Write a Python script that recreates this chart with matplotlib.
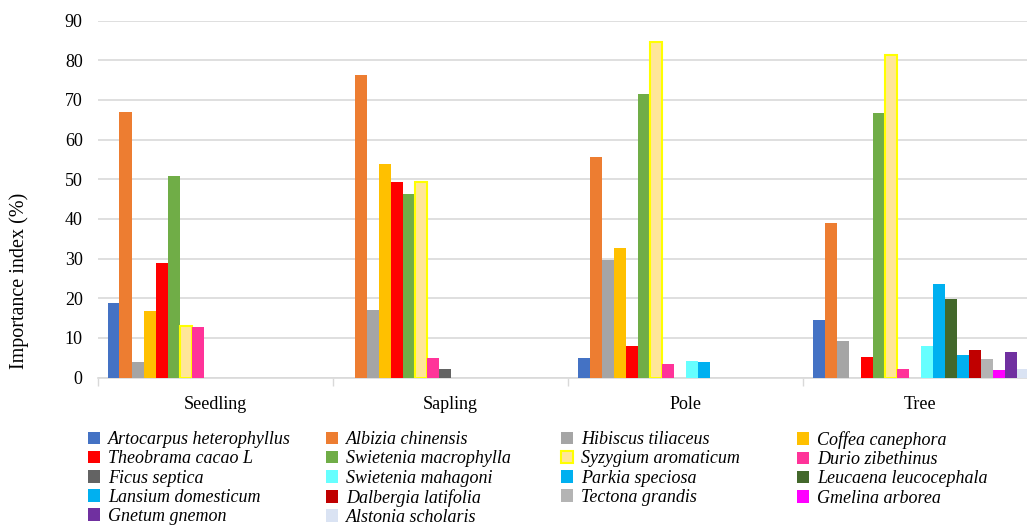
import numpy as np
import matplotlib
import matplotlib.pyplot as plt
from matplotlib.patches import Patch

matplotlib.rcParams['font.family'] = 'Liberation Serif'

stages = ['Seedling', 'Sapling', 'Pole', 'Tree']

species = ['Artocarpus heterophyllus', 'Albizia chinensis', 'Hibiscus tiliaceus',
           'Coffea canephora', 'Theobrama cacao L', 'Swietenia macrophylla',
           'Syzygium aromaticum', 'Durio zibethinus', 'Ficus septica',
           'Swietenia mahagoni', 'Parkia speciosa', 'Leucaena leucocephala',
           'Lansium domesticum', 'Dalbergia latifolia', 'Tectona grandis',
           'Gmelina arborea', 'Gnetum gnemon', 'Alstonia scholaris']

# importance index (%) per species: Seedling, Sapling, Pole, Tree
artocarpus = [18.8, 0, 4.9, 14.5]
albizia = [67.0, 76.3, 55.6, 39.0]
hibiscus = [3.9, 17.0, 29.6, 9.2]
coffea = [16.8, 53.9, 32.7, 0]
theobrama = [28.9, 49.3, 7.9, 5.2]
swietenia_macro = [50.8, 46.3, 71.5, 66.7]
syzygium = [13.0, 49.3, 84.6, 81.4]
durio = [12.7, 4.9, 3.4, 2.1]
ficus = [0, 2.1, 0, 0]
swietenia_maha = [0, 0, 4.2, 7.9]
parkia = [0, 0, 3.9, 23.6]
leucaena = [0, 0, 0, 19.8]
lansium = [0, 0, 0, 5.7]
dalbergia = [0, 0, 0, 6.9]
tectona = [0, 0, 0, 4.7]
gmelina = [0, 0, 0, 1.9]
gnetum = [0, 0, 0, 6.4]
alstonia = [0, 0, 0, 2.1]

values = [artocarpus, albizia, hibiscus, coffea, theobrama, swietenia_macro,
          syzygium, durio, ficus, swietenia_maha, parkia, leucaena, lansium,
          dalbergia, tectona, gmelina, gnetum, alstonia]

colors = ['#4472C4', '#ED7D31', '#A5A5A5', '#FFC000', '#FF0000', '#70AD47',
          '#FFE699', '#FF3399', '#636363', '#66FFFF', '#00B0F0', '#43682B',
          '#00B0F0', '#C00000', '#B4B4B4', '#FF00FF', '#7030A0', '#DAE3F3']

fig = plt.figure(figsize=(10.27, 5.29), dpi=100)
ax = fig.add_axes([98/1027, 1-377.5/529, 940/1027, 356.8/529])

x = np.arange(len(stages))
w = 12/235
handles = []
for i, (name, vals, c) in enumerate(zip(species, values, colors)):
    ec = '#FFFF00' if name.startswith('Syzygium') else 'none'
    lw = 1.5 if ec != 'none' else 0
    ax.bar(x + (i - 8.5)*w, vals, w, color=c, edgecolor=ec, linewidth=lw, zorder=3)
    handles.append(Patch(facecolor=c, edgecolor=ec, linewidth=lw))

ax.set_xlim(-0.5, 3.5)
ax.set_ylim(0, 90)
ax.set_yticks(range(0, 91, 10))
ax.set_xticks(x)
ax.set_xticklabels(stages)
ax.set_xticks(np.arange(-0.5, 4, 1), minor=True)
ax.tick_params(axis='x', which='major', length=0, labelsize=13, pad=13)
ax.tick_params(axis='x', which='minor', length=6, color='#D9D9D9', width=1)
ax.tick_params(axis='y', length=0, labelsize=13, pad=11)
ax.grid(axis='y', color='#D9D9D9', linewidth=1.2, zorder=0)
for s in ['top', 'right', 'left']:
    ax.spines[s].set_visible(False)
ax.spines['bottom'].set_color('#D9D9D9')
ax.spines['bottom'].set_linewidth(1.2)
ax.set_ylabel('Importance index (%)', fontsize=14.5)
ax.yaxis.set_label_coords(-69/940, 0.27)

# legend: 4 fixed-width columns, filled row by row
col_x = [81, 319, 554, 790]
for c in range(4):
    idx = list(range(c, len(species), 4))
    leg = fig.legend([handles[k] for k in idx], [species[k] for k in idx],
                     loc='upper left', bbox_to_anchor=(col_x[c]/1027, 1-424/529),
                     frameon=False, prop={'style': 'italic', 'size': 13},
                     handlelength=0.65, handleheight=0.7, handletextpad=0.45,
                     labelspacing=0.12, borderaxespad=0)

fig.savefig('out.png', dpi=100)
